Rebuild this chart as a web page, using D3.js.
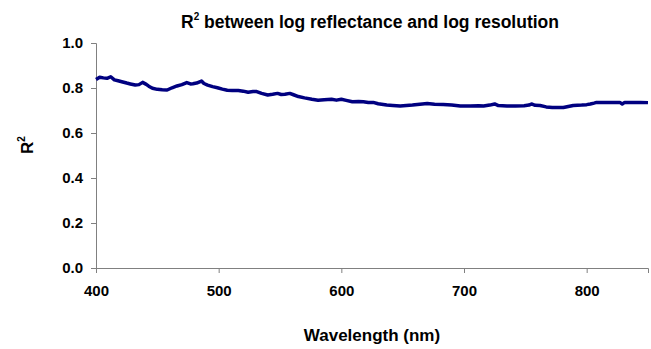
<!DOCTYPE html>
<html>
<head>
<meta charset="utf-8">
<script src="https://cdn.jsdelivr.net/npm/d3@7"></script>
<style>
  body { margin: 0; background: #fff; }
  svg { display: block; font-family: "Liberation Sans", Arial, sans-serif; }
</style>
</head>
<body>
<svg id="chart"></svg>
<script>
// wavelength (nm) and R^2
const wavelength = [400, 403, 406, 409, 412, 415, 418, 421, 425, 428, 432, 435, 438, 441, 443, 446, 450, 454, 458, 462,
  466, 470, 474, 477, 479, 482, 486, 488, 491, 495, 499, 503, 507, 511, 516, 520, 524, 528, 531, 535,
  540, 544, 548, 551, 554, 558, 561, 565, 570, 576, 581, 586, 592, 596, 600, 604, 609, 614, 618, 622,
  626, 630, 637, 642, 648, 653, 658, 664, 670, 676, 683, 690, 697, 705, 712, 716, 721, 725, 728, 735,
  742, 749, 753, 755, 758, 762, 767, 772, 776, 781, 785, 789, 796, 800, 803, 806, 808, 814, 820, 827,
  829, 831, 838, 844, 850];
const r2 = [0.838, 0.848, 0.845, 0.843, 0.850, 0.836, 0.832, 0.828, 0.822, 0.818, 0.813, 0.815, 0.825, 0.816, 0.808, 0.799, 0.794, 0.792, 0.791, 0.801,
  0.809, 0.815, 0.824, 0.818, 0.819, 0.822, 0.831, 0.820, 0.813, 0.806, 0.801, 0.795, 0.790, 0.789, 0.789, 0.786, 0.781, 0.784, 0.784, 0.776,
  0.769, 0.772, 0.776, 0.771, 0.772, 0.776, 0.770, 0.762, 0.756, 0.750, 0.746, 0.748, 0.750, 0.746, 0.750, 0.745, 0.739, 0.740, 0.739, 0.736,
  0.736, 0.730, 0.724, 0.722, 0.720, 0.722, 0.724, 0.728, 0.731, 0.728, 0.727, 0.724, 0.720, 0.720, 0.721, 0.720, 0.724, 0.729, 0.722, 0.720,
  0.720, 0.721, 0.724, 0.729, 0.723, 0.722, 0.716, 0.713, 0.713, 0.713, 0.718, 0.722, 0.724, 0.726, 0.729, 0.733, 0.736, 0.736, 0.736, 0.736,
  0.729, 0.736, 0.736, 0.736, 0.735];
const xTicks = [400, 500, 600, 700, 800];
const yTicks = [0, 0.2, 0.4, 0.6, 0.8, 1.0];

const width = 651, height = 349;
const margin = { top: 43, right: 3, bottom: 81, left: 96 };

const svg = d3.select('#chart')
  .attr('width', width)
  .attr('height', height)
  .attr('viewBox', `0 0 ${width} ${height}`);

const x = d3.scaleLinear().domain([400, 850]).range([margin.left, width - margin.right]);
const y = d3.scaleLinear().domain([0, 1]).range([height - margin.bottom, margin.top]);

// Title
const title = svg.append('text')
  .attr('x', 370)
  .attr('y', 28)
  .attr('text-anchor', 'middle')
  .attr('font-size', '17.5px')
  .attr('font-weight', 'bold')
  .attr('fill', '#000');
title.append('tspan').text('R');
title.append('tspan').attr('font-size', '10px').attr('dy', -8).text('2');
title.append('tspan').attr('dy', 8).text(' between log reflectance and log resolution');

// Y axis
const yAxis = svg.append('g')
  .attr('transform', `translate(${margin.left},0)`)
  .call(d3.axisLeft(y).tickValues(yTicks).tickFormat(d3.format('.1f')).tickSizeOuter(0).tickSize(5).tickPadding(8));

// X axis
const xAxis = svg.append('g')
  .attr('transform', `translate(0,${height - margin.bottom})`)
  .call(d3.axisBottom(x).tickValues(xTicks).tickFormat(d3.format('d')).tickSizeOuter(0).tickSize(5).tickPadding(12));

[yAxis, xAxis].forEach(a => {
  a.select('.domain').attr('stroke', '#808080');
  a.selectAll('.tick line').attr('stroke', '#808080');
  a.selectAll('.tick text')
    .attr('font-family', '"Liberation Sans", Arial, sans-serif')
    .attr('font-size', '15px')
    .attr('font-weight', 'bold')
    .attr('fill', '#000');
});

// Axis titles
svg.append('text')
  .attr('x', 372)
  .attr('y', 341)
  .attr('text-anchor', 'middle')
  .attr('font-size', '17px')
  .attr('font-weight', 'bold')
  .text('Wavelength (nm)');

const yLabel = svg.append('text')
  .attr('transform', 'translate(33,145) rotate(-90)')
  .attr('text-anchor', 'middle')
  .attr('font-size', '17px')
  .attr('font-weight', 'bold');
yLabel.append('tspan').text('R');
yLabel.append('tspan').attr('font-size', '10px').attr('dy', -8).text('2');

// Line
const data = wavelength.map((w, i) => ({ w, v: r2[i] }));
svg.append('path')
  .datum(data)
  .attr('fill', 'none')
  .attr('stroke', '#000080')
  .attr('stroke-width', 3.5)
  .attr('stroke-linejoin', 'round')
  .attr('d', d3.line().x(d => x(d.w)).y(d => y(d.v)));
</script>
</body>
</html>
